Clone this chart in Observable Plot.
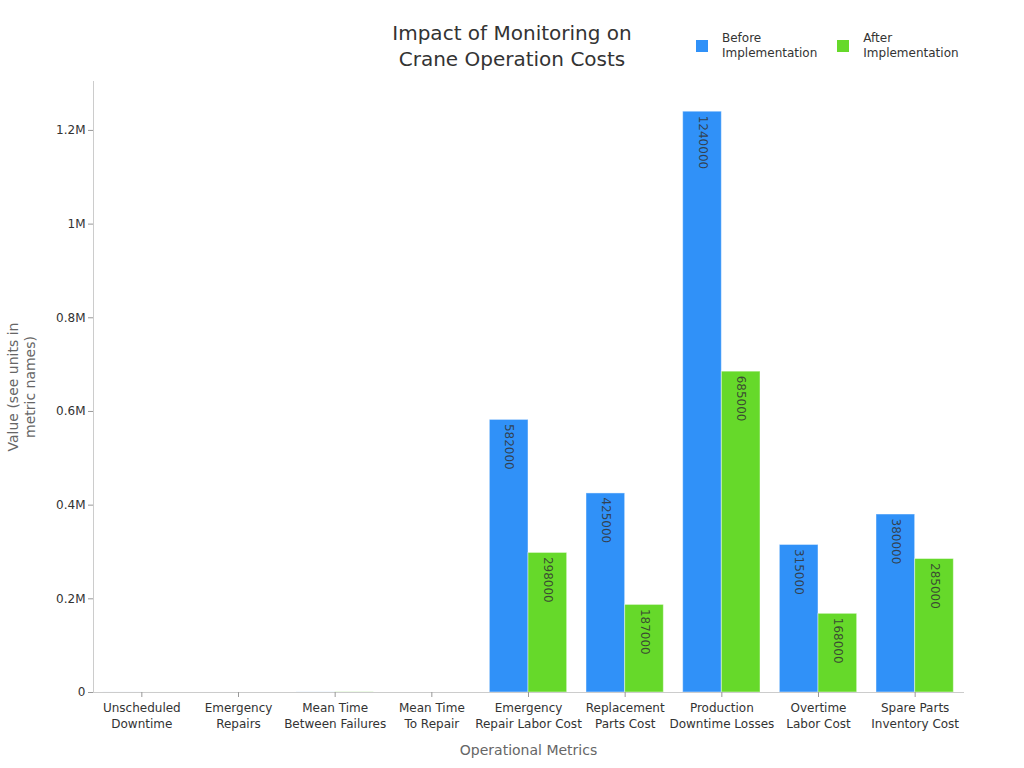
<!DOCTYPE html>
<html>
<head>
<meta charset="utf-8">
<script src="https://cdn.jsdelivr.net/npm/d3@7"></script>
<script src="https://cdn.jsdelivr.net/npm/@observablehq/plot@0.6"></script>
<style>
  html, body { margin: 0; padding: 0; background: #fff; }
  body { width: 1024px; height: 768px; overflow: hidden; font-family: "DejaVu Sans", sans-serif; }
  #header { position: relative; height: 78px; }
  #title { position: absolute; left: 0; right: 0; top: 20px; text-align: center; font-size: 20px; line-height: 26px; color: #333; }
  #legend { position: absolute; left: 696px; top: 31px; display: flex; font-size: 12px; line-height: 15px; color: #333; }
  .item { display: flex; align-items: center; margin-right: 20px; }
  .swatch { width: 12px; height: 12px; margin-right: 14px; }
  #chart svg g[aria-label="y-axis tick"] path,
  #chart svg g[aria-label="fx-axis tick"] path { stroke: #999; }
  #chart svg g[aria-label="fx-axis label"] text { font-size: 14px; fill: #666; }
</style>
</head>
<body>
<div id="header">
  <div id="title">Impact of Monitoring on<br>Crane Operation Costs</div>
  <div id="legend"></div>
</div>
<div id="chart"></div>
<script>
// Operational metrics, before and after installing crane monitoring
const metrics = [
  "Unscheduled Downtime",
  "Emergency Repairs",
  "Mean Time Between Failures",
  "Mean Time To Repair",
  "Emergency Repair Labor Cost",
  "Replacement Parts Cost",
  "Production Downtime Losses",
  "Overtime Labor Cost",
  "Spare Parts Inventory Cost"
];
const metricLabels = [
  "Unscheduled\nDowntime",
  "Emergency\nRepairs",
  "Mean Time\nBetween Failures",
  "Mean Time\nTo Repair",
  "Emergency\nRepair Labor Cost",
  "Replacement\nParts Cost",
  "Production\nDowntime Losses",
  "Overtime\nLabor Cost",
  "Spare Parts\nInventory Cost"
];
const phases = ["Before Implementation", "After Implementation"];
const phaseLabels = ["Before\nImplementation", "After\nImplementation"];
const colors = ["#3091f8", "#66d92a"];

// hours, counts and hours are tiny next to the cost figures
const beforeValues = [186, 42, 410, 9.5, 582000, 425000, 1240000, 315000, 380000];
const afterValues  = [64, 13, 870, 4.2, 298000, 187000, 685000, 168000, 285000];

const yTicks = [0, 200000, 400000, 600000, 800000, 1000000, 1200000];
const yTickLabels = ["0", "0.2M", "0.4M", "0.6M", "0.8M", "1M", "1.2M"];

const rows = metrics.flatMap((m, i) => [
  {metric: m, phase: phases[0], value: beforeValues[i]},
  {metric: m, phase: phases[1], value: afterValues[i]}
]);
const large = rows.filter(d => d.value >= 100000);
const small = rows.filter(d => d.value < 100000);

// legend
const legend = document.getElementById("legend");
phases.forEach((p, i) => {
  const item = document.createElement("div");
  item.className = "item";
  const sw = document.createElement("div");
  sw.className = "swatch";
  sw.style.background = colors[i];
  const tx = document.createElement("div");
  tx.innerHTML = phaseLabels[i].replace("\n", "<br>");
  item.append(sw, tx);
  legend.append(item);
});

const yMax = d3.max(rows, d => d.value) * 1.052;

const chart = Plot.plot({
  width: 1024,
  height: 690,
  marginTop: 3,
  marginLeft: 93,
  marginRight: 61,
  marginBottom: 76,
  style: {fontFamily: "DejaVu Sans, sans-serif", fontSize: "12px", color: "#333", background: "#fff"},
  fx: {domain: metrics, padding: 0, round: false},
  x: {domain: phases, paddingInner: 0, paddingOuter: 0.25, round: false, axis: null},
  y: {domain: [0, yMax]},
  color: {domain: phases, range: colors},
  marks: [
    Plot.barY(small, {fx: "metric", x: "phase", y: "value", fill: "phase", fillOpacity: 0.3}),
    Plot.barY(large, {
      fx: "metric", x: "phase", y: "value", fill: "phase",
      stroke: "#fff", strokeOpacity: 0.45, strokeWidth: 1
    }),
    Plot.text(large, {
      fx: "metric", x: "phase", y: "value", text: d => String(d.value),
      rotate: 90, textAnchor: "start", lineAnchor: "middle", dy: 4,
      fill: "#333", fillOpacity: 0.85, fontSize: 12
    }),
    Plot.ruleY([0], {stroke: "#ccc", insetLeft: -1, insetRight: -1}),
    Plot.frame({anchor: "left", facetAnchor: "left", stroke: "#ccc"}),
    Plot.axisY({
      ticks: yTicks, tickFormat: d => yTickLabels[yTicks.indexOf(d)],
      tickSize: 5, tickPadding: 3, label: null, facetAnchor: "left"
    }),
    Plot.text(["Value (see units in\nmetric names)"], {
      facetAnchor: "left", frameAnchor: "left", dx: -72, rotate: -90,
      textAnchor: "middle", lineAnchor: "middle", lineHeight: 1.2,
      fill: "#666", fontSize: 14
    }),
    Plot.axisFx({
      anchor: "bottom", tickSize: 5, tickPadding: 3,
      tickFormat: d => metricLabels[metrics.indexOf(d)],
      lineHeight: 1.35,
      label: "Operational Metrics", labelAnchor: "center", labelOffset: 62
    })
  ]
});
document.getElementById("chart").append(chart);
</script>
</body>
</html>
